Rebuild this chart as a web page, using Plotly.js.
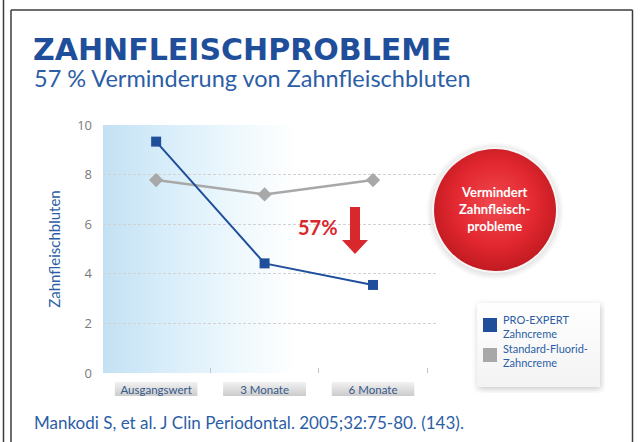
<!DOCTYPE html>
<html>
<head>
<meta charset="utf-8">
<script src="https://cdn.plot.ly/plotly-3.0.1.min.js"></script>
<style>html,body{margin:0;padding:0;background:#fff;}#chart{width:643px;height:442px;}</style>
</head>
<body>
<div id="chart"></div>
<script>
// ---- data ----
const categories = ["Ausgangswert", "3 Monate", "6 Monate"];
const seriesNames = ["PRO-EXPERT<br>Zahncreme", "Standard-Fluorid-<br>Zahncreme"];
const proExpert = [9.33, 4.42, 3.55];
const standardFluorid = [7.78, 7.2, 7.78];
const yTicks = [0, 2, 4, 6, 8, 10];
const titleText = "ZAHNFLEISCHPROBLEME";
const subtitleText = "57 % Verminderung von Zahnfleischbluten";
const yTitle = "Zahnfleischbluten";
const reductionLabel = "57%";
const badgeText = "Vermindert<br>Zahnfleisch-<br>probleme";
const citation = "Mankodi S, et al. J Clin Periodontal. 2005;32:75-80. (143).";

// ---- geometry helpers (decoration only) ----
const W = 643, H = 442;
const M = {l: 103, r: 206, t: 125, b: 69};
const PW = W - M.l - M.r, PH = H - M.t - M.b;
const px = x => (x - M.l) / PW;
const py = y => (H - M.b - y) / PH;
const xRange = [-0.49, 2.59];
const catPaper = i => (i - xRange[0]) / (xRange[1] - xRange[0]);

const blue = "#1f4f9b";
const textBlue = "#2c5ea6";
const gray = "#a8a8a8";
const red = "#d9272e";

function svgUri(s){ return "data:image/svg+xml;utf8," + encodeURIComponent(s); }

const bgGrad = svgUri('<svg xmlns="http://www.w3.org/2000/svg" width="334" height="248" preserveAspectRatio="none"><defs><linearGradient id="g" x1="0" y1="0" x2="1" y2="0"><stop offset="0" stop-color="#c3e1f4"/><stop offset="0.2" stop-color="#d9eefa"/><stop offset="0.4" stop-color="#eef8fd"/><stop offset="0.58" stop-color="#ffffff"/><stop offset="1" stop-color="#ffffff"/></linearGradient></defs><rect width="334" height="248" fill="url(#g)"/></svg>');

const boxGrad = svgUri('<svg xmlns="http://www.w3.org/2000/svg" width="84" height="15" preserveAspectRatio="none"><defs><linearGradient id="g" x1="0" y1="0" x2="0" y2="1"><stop offset="0" stop-color="#f2f2f2"/><stop offset="1" stop-color="#cbcbcb"/></linearGradient></defs><rect width="84" height="15" fill="url(#g)"/></svg>');

const circle = svgUri('<svg xmlns="http://www.w3.org/2000/svg" width="140" height="140"><defs><radialGradient id="r" cx="0.5" cy="0.45" r="0.55"><stop offset="0" stop-color="#f04a50"/><stop offset="0.6" stop-color="#e32830"/><stop offset="1" stop-color="#c21a21"/></radialGradient><radialGradient id="s" cx="0.5" cy="0.5" r="0.5"><stop offset="0.85" stop-color="#000" stop-opacity="0.16"/><stop offset="1" stop-color="#000" stop-opacity="0"/></radialGradient></defs><circle cx="70" cy="71" r="69" fill="url(#s)"/><circle cx="70" cy="70" r="63" fill="#f6f6f6"/><circle cx="70" cy="70" r="61" fill="url(#r)"/></svg>');

const legendBox = svgUri('<svg xmlns="http://www.w3.org/2000/svg" width="133" height="94"><defs><filter id="f" x="-20%" y="-20%" width="140%" height="140%"><feGaussianBlur stdDeviation="3"/></filter><linearGradient id="g" x1="0" y1="0" x2="0" y2="1"><stop offset="0" stop-color="#ffffff"/><stop offset="1" stop-color="#f3f3f3"/></linearGradient></defs><rect x="6" y="6" width="123" height="84" fill="#000" fill-opacity="0.22" filter="url(#f)"/><rect x="5" y="4" width="123" height="84" fill="url(#g)"/></svg>');

const images = [
  {source: bgGrad, xref: "paper", yref: "paper", x: 0, y: 1, sizex: 1, sizey: 1, sizing: "stretch", xanchor: "left", yanchor: "top", layer: "below"},
  {source: circle, xref: "paper", yref: "paper", x: px(425), y: py(140), sizex: 140 / PW, sizey: 140 / PH, sizing: "stretch", xanchor: "left", yanchor: "top", layer: "above"},
  {source: legendBox, xref: "paper", yref: "paper", x: px(472), y: py(299), sizex: 133 / PW, sizey: 94 / PH, sizing: "stretch", xanchor: "left", yanchor: "top", layer: "above"}
];
categories.forEach((c, i) => {
  const cx = catPaper(i);
  images.push({source: boxGrad, xref: "paper", yref: "paper", x: cx, y: py(382), sizex: 83 / PW, sizey: 14 / PH, sizing: "stretch", xanchor: "center", yanchor: "top", layer: "below"});
});

// frame lines + arrow + legend swatches
const frame = {color: "#3c3c3c", width: 1.5};
const arrowPath = ['M', px(350), py(207), 'L', px(360), py(207), 'L', px(360), py(240), 'L', px(368), py(240), 'L', px(355), py(254), 'L', px(342), py(240), 'L', px(350), py(240), 'Z'].join(' ');
const shapes = [
  {type: "line", xref: "paper", yref: "paper", x0: px(3.5), x1: px(3.5), y0: py(0), y1: py(442), line: frame},
  {type: "line", xref: "paper", yref: "paper", x0: px(11), x1: px(11), y0: py(10), y1: py(442), line: frame},
  {type: "line", xref: "paper", yref: "paper", x0: px(11), x1: px(632.5), y0: py(10), y1: py(10), line: frame},
  {type: "line", xref: "paper", yref: "paper", x0: px(632.5), x1: px(632.5), y0: py(10), y1: py(442), line: frame},
  {type: "path", xref: "paper", yref: "paper", path: arrowPath, fillcolor: red, line: {width: 0}},
  {type: "rect", xref: "paper", yref: "paper", x0: px(483), x1: px(497), y0: py(318), y1: py(332), fillcolor: blue, line: {width: 0}},
  {type: "rect", xref: "paper", yref: "paper", x0: px(483), x1: px(497), y0: py(348), y1: py(362), fillcolor: gray, line: {width: 0}}
];

const annotations = [
  {text: subtitleText, xref: "paper", yref: "paper", x: px(32), y: py(78), showarrow: false, xanchor: "left", yanchor: "middle", font: {family: "Lato", size: 23.5, color: textBlue}},
  {text: reductionLabel, xref: "paper", yref: "paper", x: px(318), y: py(227), showarrow: false, xanchor: "center", yanchor: "middle", font: {family: "Lato", size: 20, color: red, weight: 700}},
  {text: badgeText, xref: "paper", yref: "paper", x: px(495), y: py(209), showarrow: false, xanchor: "center", yanchor: "middle", align: "center", font: {family: "Lato", size: 13, color: "#ffffff", weight: 700}},
  {text: seriesNames[0], xref: "paper", yref: "paper", x: px(501), y: py(326), showarrow: false, xanchor: "left", yanchor: "middle", align: "left", font: {family: "Lato", size: 11, color: textBlue}},
  {text: seriesNames[1], xref: "paper", yref: "paper", x: px(501), y: py(355), showarrow: false, xanchor: "left", yanchor: "middle", align: "left", font: {family: "Lato", size: 11, color: textBlue}},
  {text: citation, xref: "paper", yref: "paper", x: px(32), y: py(422), showarrow: false, xanchor: "left", yanchor: "middle", font: {family: "Lato", size: 17, color: textBlue}}
];

const traces = [
  {x: categories, y: standardFluorid, name: seriesNames[1], type: "scatter", mode: "lines+markers", line: {color: gray, width: 2.5}, marker: {symbol: "diamond", size: 11, color: gray}, showlegend: false, cliponaxis: false},
  {x: categories, y: proExpert, name: seriesNames[0], type: "scatter", mode: "lines+markers", line: {color: blue, width: 2}, marker: {symbol: "square", size: 10, color: blue}, showlegend: false, cliponaxis: false}
];

const layout = {
  width: W, height: H,
  margin: M,
  paper_bgcolor: "#ffffff",
  plot_bgcolor: "rgba(0,0,0,0)",
  showlegend: false,
  title: {
    text: titleText,
    xref: "container", yref: "container",
    x: 33 / W, xanchor: "left",
    y: 1 - 49 / H, yanchor: "middle",
    font: {family: "DejaVu Sans", size: 30, color: blue, weight: 700}
  },
  xaxis: {
    type: "category", range: xRange, fixedrange: true,
    showgrid: false, zeroline: false, showline: false,
    ticks: "inside", tickson: "boundaries", ticklen: 5, tickcolor: "#c4c4c4", tickwidth: 1,
    ticklabelstandoff: 8,
    tickfont: {family: "Lato", size: 11.5, color: "#36588a"}
  },
  yaxis: {
    range: [0, 10], tickvals: yTicks, fixedrange: true,
    showgrid: true, gridcolor: "#d2d2d2", griddash: "3px,2px", gridwidth: 1,
    zeroline: false, showline: false, ticks: "",
    ticklabelstandoff: 10,
    tickfont: {family: "Open Sans", size: 13, color: "#7a7a7a"},
    title: {text: yTitle, standoff: 12, font: {family: "Lato", size: 15, color: textBlue}}
  },
  images: images,
  shapes: shapes,
  annotations: annotations
};

Plotly.newPlot("chart", traces, layout, {displayModeBar: false, staticPlot: true});
</script>
</body>
</html>
